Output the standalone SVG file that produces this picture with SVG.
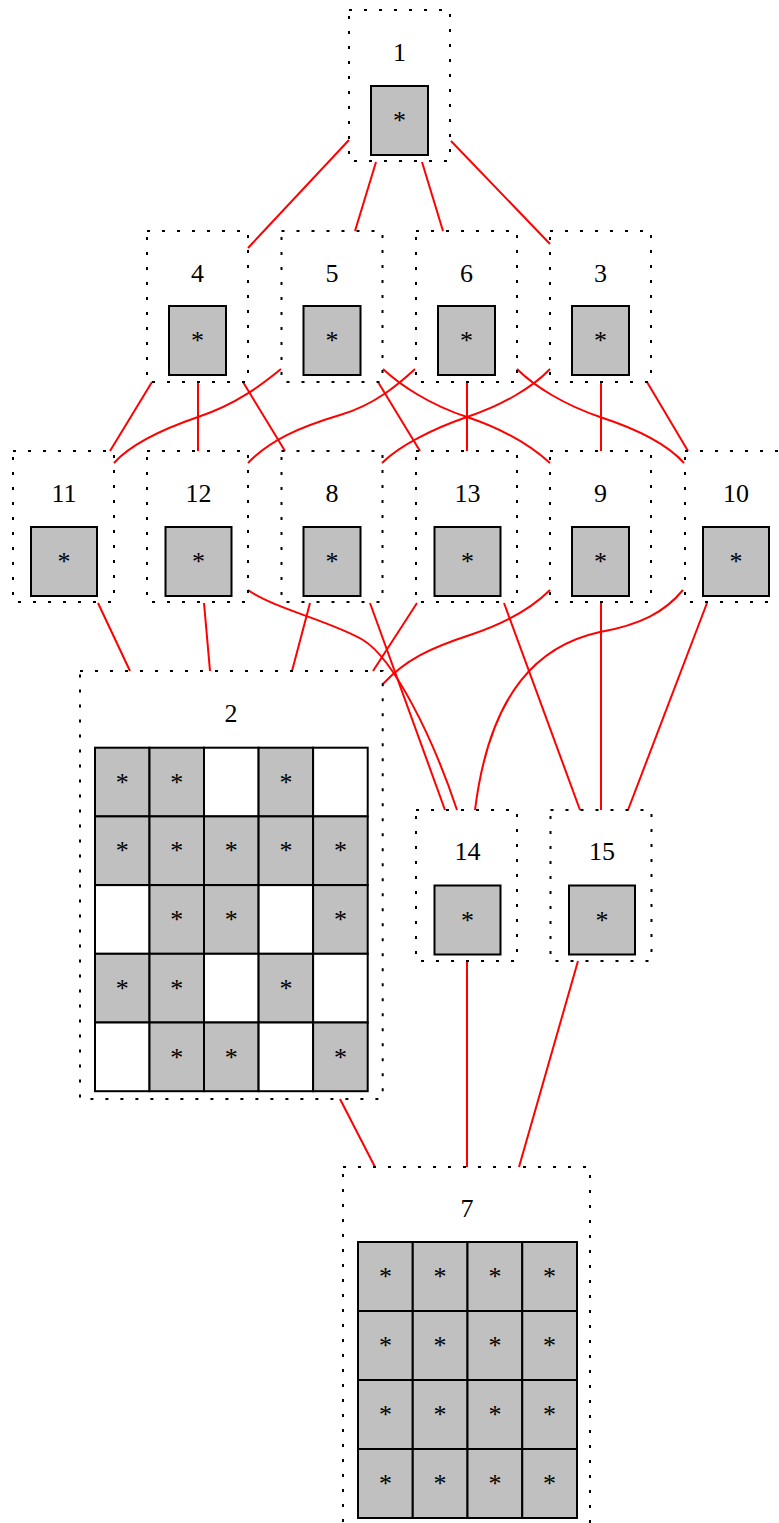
<svg xmlns="http://www.w3.org/2000/svg" width="779" height="1523" viewBox="0 0 779 1523">
<style>
.box{fill:none;stroke:#000;stroke-width:2;stroke-dasharray:3,12}
.cell{fill:#c0c0c0;stroke:#000;stroke-width:2}
.empty{fill:#fff;stroke:#000;stroke-width:2}
.lbl{font-family:"Liberation Serif","Times New Roman",serif;font-size:26px;text-anchor:middle;fill:#000}
.edge{fill:none;stroke:#ff0000;stroke-width:2}
</style>
<rect width="779" height="1523" fill="#fff"/>
<g id="edges">
<path class="edge" d="M349,140 L248,248"/>
<path class="edge" d="M376,162 L355,231"/>
<path class="edge" d="M422,162 L443,231"/>
<path class="edge" d="M451,141 L550,244"/>
<path class="edge" d="M152,382 L110,451"/>
<path class="edge" d="M198,382 L198,451"/>
<path class="edge" d="M243,382 L285,451"/>
<path class="edge" d="M281,369 C266,381 240,403 198,417 C160,430 130,445 114,463"/>
<path class="edge" d="M378,382 L420,451"/>
<path class="edge" d="M383,369 C400,385 430,405 467,417 C500,428 530,445 550,463"/>
<path class="edge" d="M415,369 C400,383 375,405 340,415 C300,427 270,440 248,463"/>
<path class="edge" d="M467,382 L467,451"/>
<path class="edge" d="M517,369 C535,387 565,405 600,417 C640,430 668,445 684,463"/>
<path class="edge" d="M550,369 C533,387 503,405 467,417 C435,428 400,445 382,463"/>
<path class="edge" d="M601,382 L601,451"/>
<path class="edge" d="M647,382 L688,451"/>
<path class="edge" d="M98,603 L130,671"/>
<path class="edge" d="M204,603 L210,671"/>
<path class="edge" d="M310,603 L292,671"/>
<path class="edge" d="M417,603 L373,671"/>
<path class="edge" d="M550,590 C530,610 500,625 470,635 C430,648 405,660 383,684"/>
<path class="edge" d="M248,590 C273,608 333,622 363,640 C393,658 432,735 457,810"/>
<path class="edge" d="M370,603 L445,810"/>
<path class="edge" d="M683,590 C665,612 640,625 600,632 C540,645 490,690 475,810"/>
<path class="edge" d="M504,603 L580,810"/>
<path class="edge" d="M601,603 L601,810"/>
<path class="edge" d="M707,603 L628,810"/>
<path class="edge" d="M340,1099 L375,1167"/>
<path class="edge" d="M467,961 L467,1167"/>
<path class="edge" d="M578,961 L519,1167"/>
</g>
<g id="node1"><rect class="box" x="349" y="10" width="101" height="151"/><text class="lbl" x="399.5" y="61">1</text><rect class="cell" x="371" y="86" width="57" height="69"/><text class="lbl" x="399.5" y="129">*</text></g>
<g id="node4"><rect class="box" x="147" y="231" width="101" height="151"/><text class="lbl" x="197.5" y="282">4</text><rect class="cell" x="169" y="306" width="57" height="69"/><text class="lbl" x="197.5" y="349">*</text></g>
<g id="node5"><rect class="box" x="281.5" y="231" width="101" height="151"/><text class="lbl" x="332" y="282">5</text><rect class="cell" x="303.5" y="306" width="57" height="69"/><text class="lbl" x="332" y="349">*</text></g>
<g id="node6"><rect class="box" x="416" y="231" width="101" height="151"/><text class="lbl" x="466.5" y="282">6</text><rect class="cell" x="438" y="306" width="57" height="69"/><text class="lbl" x="466.5" y="349">*</text></g>
<g id="node3"><rect class="box" x="550" y="231" width="101" height="151"/><text class="lbl" x="600.5" y="282">3</text><rect class="cell" x="572" y="306" width="57" height="69"/><text class="lbl" x="600.5" y="349">*</text></g>
<g id="node11"><rect class="box" x="13" y="451" width="101" height="151"/><text class="lbl" x="64" y="502">11</text><rect class="cell" x="31" y="527" width="66" height="69"/><text class="lbl" x="64" y="570">*</text></g>
<g id="node12"><rect class="box" x="147" y="451" width="101" height="151"/><text class="lbl" x="198.5" y="502">12</text><rect class="cell" x="165.5" y="527" width="66" height="69"/><text class="lbl" x="198.5" y="570">*</text></g>
<g id="node8"><rect class="box" x="281.5" y="451" width="101" height="151"/><text class="lbl" x="332" y="502">8</text><rect class="cell" x="303.5" y="527" width="57" height="69"/><text class="lbl" x="332" y="570">*</text></g>
<g id="node13"><rect class="box" x="416" y="451" width="101" height="151"/><text class="lbl" x="467.5" y="502">13</text><rect class="cell" x="434.5" y="527" width="66" height="69"/><text class="lbl" x="467.5" y="570">*</text></g>
<g id="node9"><rect class="box" x="550" y="451" width="101" height="151"/><text class="lbl" x="600.5" y="502">9</text><rect class="cell" x="572" y="527" width="57" height="69"/><text class="lbl" x="600.5" y="570">*</text></g>
<g id="node10"><rect class="box" x="685" y="451" width="101" height="151"/><text class="lbl" x="736" y="502">10</text><rect class="cell" x="703" y="527" width="66" height="69"/><text class="lbl" x="736" y="570">*</text></g>
<g id="node14"><rect class="box" x="416" y="810" width="101" height="151"/><text class="lbl" x="467.5" y="860">14</text><rect class="cell" x="434.5" y="885.5" width="66" height="69"/><text class="lbl" x="467.5" y="928.5">*</text></g>
<g id="node15"><rect class="box" x="550.5" y="810" width="101" height="151"/><text class="lbl" x="602" y="860">15</text><rect class="cell" x="569" y="885.5" width="66" height="69"/><text class="lbl" x="602" y="928.5">*</text></g>
<g id="node2">
<rect class="box" x="80" y="671" width="302.7" height="428"/>
<text class="lbl" x="231" y="722">2</text>
<rect class="cell" x="95" y="747.7" width="54.5" height="68.7"/><text class="lbl" x="122.3" y="790.7">*</text>
<rect class="cell" x="149.5" y="747.7" width="54.5" height="68.7"/><text class="lbl" x="176.8" y="790.7">*</text>
<rect class="empty" x="204" y="747.7" width="54.6" height="68.7"/>
<rect class="cell" x="258.6" y="747.7" width="54.5" height="68.7"/><text class="lbl" x="285.9" y="790.7">*</text>
<rect class="empty" x="313.1" y="747.7" width="54.6" height="68.7"/>
<rect class="cell" x="95" y="816.4" width="54.5" height="68.7"/><text class="lbl" x="122.3" y="859.4">*</text>
<rect class="cell" x="149.5" y="816.4" width="54.5" height="68.7"/><text class="lbl" x="176.8" y="859.4">*</text>
<rect class="cell" x="204" y="816.4" width="54.6" height="68.7"/><text class="lbl" x="231.3" y="859.4">*</text>
<rect class="cell" x="258.6" y="816.4" width="54.5" height="68.7"/><text class="lbl" x="285.9" y="859.4">*</text>
<rect class="cell" x="313.1" y="816.4" width="54.6" height="68.7"/><text class="lbl" x="340.4" y="859.4">*</text>
<rect class="empty" x="95" y="885.1" width="54.5" height="68.7"/>
<rect class="cell" x="149.5" y="885.1" width="54.5" height="68.7"/><text class="lbl" x="176.8" y="928.1">*</text>
<rect class="cell" x="204" y="885.1" width="54.6" height="68.7"/><text class="lbl" x="231.3" y="928.1">*</text>
<rect class="empty" x="258.6" y="885.1" width="54.5" height="68.7"/>
<rect class="cell" x="313.1" y="885.1" width="54.6" height="68.7"/><text class="lbl" x="340.4" y="928.1">*</text>
<rect class="cell" x="95" y="953.8" width="54.5" height="68.7"/><text class="lbl" x="122.3" y="996.8">*</text>
<rect class="cell" x="149.5" y="953.8" width="54.5" height="68.7"/><text class="lbl" x="176.8" y="996.8">*</text>
<rect class="empty" x="204" y="953.8" width="54.6" height="68.7"/>
<rect class="cell" x="258.6" y="953.8" width="54.5" height="68.7"/><text class="lbl" x="285.9" y="996.8">*</text>
<rect class="empty" x="313.1" y="953.8" width="54.6" height="68.7"/>
<rect class="empty" x="95" y="1022.5" width="54.5" height="68.7"/>
<rect class="cell" x="149.5" y="1022.5" width="54.5" height="68.7"/><text class="lbl" x="176.8" y="1065.5">*</text>
<rect class="cell" x="204" y="1022.5" width="54.6" height="68.7"/><text class="lbl" x="231.3" y="1065.5">*</text>
<rect class="empty" x="258.6" y="1022.5" width="54.5" height="68.7"/>
<rect class="cell" x="313.1" y="1022.5" width="54.6" height="68.7"/><text class="lbl" x="340.4" y="1065.5">*</text>
</g>
<g id="node7">
<rect class="box" x="343" y="1167" width="247" height="358"/>
<text class="lbl" x="467" y="1217">7</text>
<rect class="cell" x="358" y="1242" width="54.75" height="69"/><text class="lbl" x="385.4" y="1285">*</text>
<rect class="cell" x="412.75" y="1242" width="54.75" height="69"/><text class="lbl" x="440.1" y="1285">*</text>
<rect class="cell" x="467.5" y="1242" width="54.75" height="69"/><text class="lbl" x="494.9" y="1285">*</text>
<rect class="cell" x="522.25" y="1242" width="54.75" height="69"/><text class="lbl" x="549.6" y="1285">*</text>
<rect class="cell" x="358" y="1311" width="54.75" height="69"/><text class="lbl" x="385.4" y="1354">*</text>
<rect class="cell" x="412.75" y="1311" width="54.75" height="69"/><text class="lbl" x="440.1" y="1354">*</text>
<rect class="cell" x="467.5" y="1311" width="54.75" height="69"/><text class="lbl" x="494.9" y="1354">*</text>
<rect class="cell" x="522.25" y="1311" width="54.75" height="69"/><text class="lbl" x="549.6" y="1354">*</text>
<rect class="cell" x="358" y="1380" width="54.75" height="69"/><text class="lbl" x="385.4" y="1423">*</text>
<rect class="cell" x="412.75" y="1380" width="54.75" height="69"/><text class="lbl" x="440.1" y="1423">*</text>
<rect class="cell" x="467.5" y="1380" width="54.75" height="69"/><text class="lbl" x="494.9" y="1423">*</text>
<rect class="cell" x="522.25" y="1380" width="54.75" height="69"/><text class="lbl" x="549.6" y="1423">*</text>
<rect class="cell" x="358" y="1449" width="54.75" height="69"/><text class="lbl" x="385.4" y="1492">*</text>
<rect class="cell" x="412.75" y="1449" width="54.75" height="69"/><text class="lbl" x="440.1" y="1492">*</text>
<rect class="cell" x="467.5" y="1449" width="54.75" height="69"/><text class="lbl" x="494.9" y="1492">*</text>
<rect class="cell" x="522.25" y="1449" width="54.75" height="69"/><text class="lbl" x="549.6" y="1492">*</text>
</g>
</svg>
